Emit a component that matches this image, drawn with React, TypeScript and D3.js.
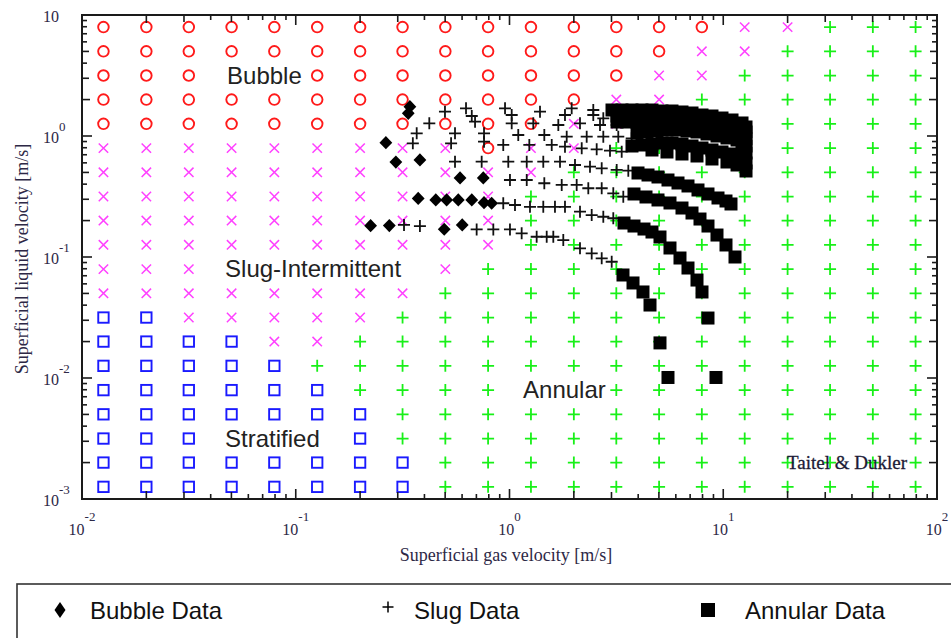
import React from "react";
import * as d3 from "d3";

const WIDTH = 951;
const HEIGHT = 638;
const PLOT = { left: 82, right: 937, top: 15, bottom: 499 };

// Grid columns: superficial gas velocity [m/s]
const gridGas = [0.0126, 0.02, 0.0316, 0.0501, 0.0794, 0.126, 0.2, 0.316, 0.501, 0.794, 1.26, 2.0, 3.16, 5.01, 7.94, 12.6, 20.0, 31.6, 50.1, 79.4];
// Grid rows, top to bottom: superficial liquid velocity [m/s]
const gridLiquid = [7.94, 5.01, 3.16, 2.0, 1.26, 0.794, 0.501, 0.316, 0.2, 0.126, 0.0794, 0.0501, 0.0316, 0.02, 0.0126, 0.00794, 0.00501, 0.00316, 0.002, 0.00126];
// Predicted regime per cell: o bubble, x slug-intermittent, s stratified, + annular, blank = none
const regimeRows = [
  "oooooooooooooooxx+++",
  "ooooooooooooooxx++++",
  "ooo  ooooooooxx+++++",
  "ooooooooooooxx++++++",
  "oooooooooooxx+++++++",
  "xxxxxxxxxoxx++++++++",
  "xxxxxxxxxxx+++++++++",
  "xxxxxxxxxx++++++++++",
  "xxxxxxxxxx++++++++++",
  "xxxxxxxxxx++++++++++",
  "xxx     x+++++++++++",
  "xxxxxxxx++++++++++++",
  "ssxxxxx+++++++++++++",
  "ssssxx++++++++++++++",
  "sssss+++++++++++++++",
  "ssssss++++  ++++++++",
  "sssssss+++++++++++++",
  "sss   s+++++++++++++",
  "ssssssss++++++++++++",
  "ssssssss++++++++++++",
];

// Measured points [gas velocity, liquid velocity] in m/s
const bubbleData: [number, number][] = [
  [0.342, 1.746], [0.336, 1.54], [0.264, 0.88], [0.294, 0.609], [0.381, 0.634],
  [0.587, 0.45], [0.754, 0.45], [0.374, 0.305], [0.452, 0.296], [0.508, 0.296],
  [0.576, 0.296], [0.666, 0.296], [0.76, 0.281], [0.825, 0.278], [0.224, 0.1815],
  [0.274, 0.182], [0.495, 0.1695], [0.601, 0.184],
];

const slugData: [number, number][] = [
  [0.321, 0.184], [0.381, 0.18], [0.702, 0.169], [0.84, 0.169], [1.005, 0.169], [1.14, 0.157], [1.34, 0.147],
  [1.493, 0.147], [1.603, 0.147], [1.785, 0.138], [2.137, 0.118], [2.424, 0.107], [2.7, 0.0976], [3.007, 0.0914],
  [0.935, 0.278], [1.061, 0.269], [1.247, 0.26], [1.439, 0.26], [1.632, 0.26], [1.818, 0.26], [2.137, 0.237],
  [2.424, 0.222], [2.747, 0.215], [3.059, 0.209],
  [1.005, 0.433], [1.204, 0.433], [1.455, 0.407], [1.755, 0.394], [2.062, 0.394], [2.337, 0.37], [2.7, 0.37],
  [3.059, 0.336], [3.407, 0.315],
  [0.556, 0.613], [0.741, 0.613], [0.987, 0.613], [1.204, 0.613], [1.439, 0.613], [1.723, 0.613], [2.025, 0.576],
  [2.38, 0.558], [2.7, 0.541], [3.173, 0.524], [3.596, 0.517],
  [0.353, 0.87], [0.533, 0.87], [0.76, 0.897], [0.935, 0.843], [1.238, 0.843], [1.576, 0.843], [1.818, 0.816],
  [2.177, 0.791], [2.558, 0.776], [2.952, 0.756], [3.349, 0.742],
  [0.368, 1.053], [0.556, 1.053], [0.76, 1.053], [1.099, 1.019], [1.455, 1.019], [1.852, 0.987], [2.297, 0.987],
  [2.747, 0.987], [3.228, 0.987], [3.73, 0.957],
  [0.4215, 1.273], [0.69, 1.313], [1.024, 1.273], [1.292, 1.273], [1.692, 1.233], [2.137, 1.273], [2.651, 1.233],
  [3.173, 1.233],
  [0.499, 1.588], [0.626, 1.694], [0.666, 1.463], [0.953, 1.694], [1.024, 1.491], [1.389, 1.588], [1.818, 1.491],
  [1.954, 1.694], [2.466, 1.64], [2.466, 1.491], [2.747, 1.4],
];

const annularData: [number, number][] = [
  [3.017, 1.64], [3.36, 1.64], [3.742, 1.64], [4.168, 1.64], [4.641, 1.64], [5.169, 1.609], [5.757, 1.609],
  [6.412, 1.579], [7.142, 1.549], [7.954, 1.491], [8.858, 1.463], [9.866, 1.408], [10.99, 1.356], [12.24, 1.281],
  [12.78, 1.187],
  [3.184, 1.463], [3.546, 1.463], [3.949, 1.463], [4.398, 1.463], [4.898, 1.436], [5.455, 1.436], [6.076, 1.408],
  [6.767, 1.382], [7.537, 1.33], [8.394, 1.305], [9.348, 1.257], [10.41, 1.21], [11.6, 1.142], [12.78, 1.079],
  [3.184, 1.305], [3.546, 1.305], [3.949, 1.305], [4.398, 1.281], [4.898, 1.281], [5.455, 1.257], [6.076, 1.233],
  [6.767, 1.21], [7.537, 1.187], [8.394, 1.142], [9.348, 1.121], [10.41, 1.079], [11.6, 1.019], [12.78, 0.9445],
  [3.949, 1.059], [4.398, 1.079], [4.898, 1.1], [5.455, 1.121], [6.076, 1.121], [6.767, 1.1], [7.537, 1.079],
  [8.394, 1.039], [9.348, 1.0], [10.41, 0.963], [11.6, 0.9267], [12.78, 0.8267],
  [3.742, 0.8267], [4.168, 0.8426], [4.641, 0.8588], [5.169, 0.8753], [5.757, 0.8753], [6.412, 0.8588],
  [7.142, 0.8267], [7.954, 0.7958], [8.858, 0.7661], [9.866, 0.7375], [10.99, 0.71], [12.24, 0.658], [12.78, 0.5983],
  [12.24, 0.7661], [12.78, 0.7236],
  [4.641, 0.7661], [5.455, 0.7375], [6.412, 0.71], [7.537, 0.6835], [8.858, 0.6456], [10.41, 0.6097], [11.6, 0.5759],
  [12.78, 0.5138],
  [3.992, 0.4946], [4.446, 0.4761], [4.951, 0.4584], [5.514, 0.4329], [6.142, 0.4089], [6.84, 0.3863],
  [7.618, 0.358], [8.484, 0.3317], [9.45, 0.3074], [10.3, 0.2903], [10.87, 0.2743],
  [3.823, 0.3317], [4.351, 0.3133], [4.951, 0.296], [5.634, 0.2795], [6.412, 0.254], [7.142, 0.231],
  [7.784, 0.206], [8.484, 0.1803], [9.348, 0.1519], [10.3, 0.1257], [11.35, 0.1],
  [3.433, 0.1909], [3.823, 0.1803], [4.258, 0.1703], [4.641, 0.1609], [5.059, 0.1463], [5.634, 0.1187],
  [6.275, 0.0981], [6.84, 0.0811], [7.537, 0.0645], [7.954, 0.0514], [8.484, 0.0313],
  [3.396, 0.071], [3.783, 0.061], [4.212, 0.0514], [4.543, 0.0401], [5.059, 0.0195], [5.514, 0.0101], [9.248, 0.0101],
];

// Regime names placed on the map (left edge / baseline in data units)
const regionLabels = [
  { text: "Bubble", ug: 0.0477, ul: 2.69 },
  { text: "Slug-Intermittent", ug: 0.0467, ul: 0.0684 },
  { text: "Stratified", ug: 0.0467, ul: 0.00269 },
  { text: "Annular", ug: 1.157, ul: 0.00684 },
];
const sourceLabel = { text: "Taitel & Dukler", ug: 19.87, ul: 0.00177 };

const xTitle = "Superficial gas velocity [m/s]";
const yTitle = "Superficial liquid velocity [m/s]";
const legendItems = ["Bubble Data", "Slug Data", "Annular Data"];

const AXIS_TEXT = "#2d2846";
const SERIF = "'Liberation Serif', 'Times New Roman', serif";
const SANS = "'Liberation Sans', Arial, sans-serif";

const xScale = d3.scaleLog().domain([0.01, 100]).range([PLOT.left, PLOT.right]);
const yScale = d3.scaleLog().domain([0.001, 10]).range([PLOT.bottom, PLOT.top]);

function tickLength(v: number): number {
  const m = Math.round(v / Math.pow(10, Math.floor(Math.log10(v) + 1e-9)));
  if (m === 1) return 10;
  if (m === 2) return 8;
  if (m === 3 || m === 5) return 7;
  return 5;
}

function RegimeMarker({ kind, x, y }: { kind: string; x: number; y: number }) {
  if (kind === "o")
    return <circle cx={x} cy={y} r={5.3} fill="none" stroke="#ff1a1a" strokeWidth={1.9} />;
  if (kind === "x")
    return (
      <path
        d={`M${x - 4.7},${y - 4.7}L${x + 4.7},${y + 4.7}M${x - 4.7},${y + 4.7}L${x + 4.7},${y - 4.7}`}
        stroke="#ff40ff"
        strokeWidth={1.5}
        fill="none"
      />
    );
  if (kind === "s")
    return <rect x={x - 5.2} y={y - 5.2} width={10.4} height={10.4} fill="none" stroke="#1a1aff" strokeWidth={1.9} />;
  if (kind === "+")
    return (
      <path
        d={`M${x - 6},${y}H${x + 6}M${x},${y - 6}V${y + 6}`}
        stroke="#18f018"
        strokeWidth={1.8}
        fill="none"
      />
    );
  return null;
}

function plusPath(x: number, y: number, r: number) {
  return `M${x - r},${y}H${x + r}M${x},${y - r}V${y + r}`;
}

function diamondPath(x: number, y: number, w: number, h: number) {
  return `M${x},${y - h}L${x + w},${y}L${x},${y + h}L${x - w},${y}Z`;
}

export default function App() {
  const xTicks = xScale.ticks();
  const yTicks = yScale.ticks();
  const xMajor = [0.01, 0.1, 1, 10, 100];
  const yMajor = [10, 1, 0.1, 0.01, 0.001];
  const sq = 13;

  return (
    <svg
      width={WIDTH}
      height={HEIGHT}
      viewBox={`0 0 ${WIDTH} ${HEIGHT}`}
      style={{ position: "absolute", left: 0, top: 0, background: "#fff" }}
    >
      <rect x={0} y={0} width={WIDTH} height={HEIGHT} fill="#fff" />

      {/* regime map grid */}
      <g>
        {regimeRows.map((row, j) =>
          row.split("").map((kind, i) => (
            <RegimeMarker key={`${i}-${j}`} kind={kind} x={xScale(gridGas[i])} y={yScale(gridLiquid[j])} />
          ))
        )}
      </g>

      {/* measured data */}
      <g stroke="#111" strokeWidth={1.8} fill="none">
        {slugData.map(([ug, ul], k) => (
          <path key={k} d={plusPath(xScale(ug), yScale(ul), 6)} />
        ))}
      </g>
      <g fill="#000">
        {bubbleData.map(([ug, ul], k) => (
          <path key={k} d={diamondPath(xScale(ug), yScale(ul), 6.4, 6.6)} />
        ))}
      </g>
      <g fill="#000">
        {annularData.map(([ug, ul], k) => (
          <rect key={k} x={xScale(ug) - sq / 2} y={yScale(ul) - sq / 2} width={sq} height={sq} />
        ))}
      </g>

      {/* regime labels */}
      <g fontFamily={SANS} fontSize={24} fill="#222">
        {regionLabels.map((l) => (
          <text key={l.text} x={xScale(l.ug)} y={yScale(l.ul)}>
            {l.text}
          </text>
        ))}
      </g>
      <text
        x={xScale(sourceLabel.ug)}
        y={yScale(sourceLabel.ul)}
        fontFamily={SERIF}
        fontSize={19}
        fill="#1c1a36"
        stroke="#1c1a36"
        strokeWidth={0.3}
      >
        {sourceLabel.text}
      </text>

      {/* axes frame and ticks */}
      <g stroke="#1a1a1a" strokeWidth={1.6}>
        {xTicks.map((v, k) => {
          const x = xScale(v);
          const len = tickLength(v);
          return (
            <g key={`xt${k}`}>
              <line x1={x} x2={x} y1={PLOT.bottom} y2={PLOT.bottom - len} />
              <line x1={x} x2={x} y1={PLOT.top} y2={PLOT.top + len} />
            </g>
          );
        })}
        {yTicks.map((v, k) => {
          const y = yScale(v);
          const len = tickLength(v);
          return (
            <g key={`yt${k}`}>
              <line x1={PLOT.left} x2={PLOT.left + len} y1={y} y2={y} />
              <line x1={PLOT.right} x2={PLOT.right - len} y1={y} y2={y} />
            </g>
          );
        })}
      </g>
      <rect
        x={PLOT.left}
        y={PLOT.top}
        width={PLOT.right - PLOT.left}
        height={PLOT.bottom - PLOT.top}
        fill="none"
        stroke="#1a1a1a"
        strokeWidth={2}
      />

      {/* tick labels */}
      <g fontFamily={SERIF} fontSize={16} fill={AXIS_TEXT}>
        {xMajor.map((v) => {
          const e = Math.round(Math.log10(v));
          return (
            <text key={`xl${e}`} x={xScale(v)} y={535} textAnchor="middle">
              10
              <tspan dy={-14} fontSize={13}>
                {String(e)}
              </tspan>
            </text>
          );
        })}
        {yMajor.map((v) => {
          const e = Math.round(Math.log10(v));
          return (
            <text key={`yl${e}`} x={43} y={yScale(v) + 6.5}>
              10
              {e !== 1 && (
                <tspan dy={-12} fontSize={13}>
                  {String(e)}
                </tspan>
              )}
            </text>
          );
        })}
      </g>

      {/* axis titles */}
      <text x={506} y={561} textAnchor="middle" fontFamily={SERIF} fontSize={18} fill={AXIS_TEXT}>
        {xTitle}
      </text>
      <text
        transform={`translate(28, ${(PLOT.top + PLOT.bottom) / 2 + 2}) rotate(-90)`}
        textAnchor="middle"
        fontFamily={SERIF}
        fontSize={18}
        fill={AXIS_TEXT}
      >
        {yTitle}
      </text>

      {/* legend */}
      <rect x={17} y={584} width={1000} height={100} fill="#fff" stroke="#333" strokeWidth={1.6} />
      <path d={diamondPath(60, 610, 5.5, 8)} fill="#000" />
      <path d={plusPath(388, 607, 5.5)} stroke="#000" strokeWidth={1.5} fill="none" />
      <rect x={701} y={603} width={14} height={14} fill="#000" />
      <g fontFamily={SANS} fontSize={24} fill="#111">
        <text x={90} y={619}>{legendItems[0]}</text>
        <text x={414} y={619}>{legendItems[1]}</text>
        <text x={745} y={619}>{legendItems[2]}</text>
      </g>
    </svg>
  );
}
